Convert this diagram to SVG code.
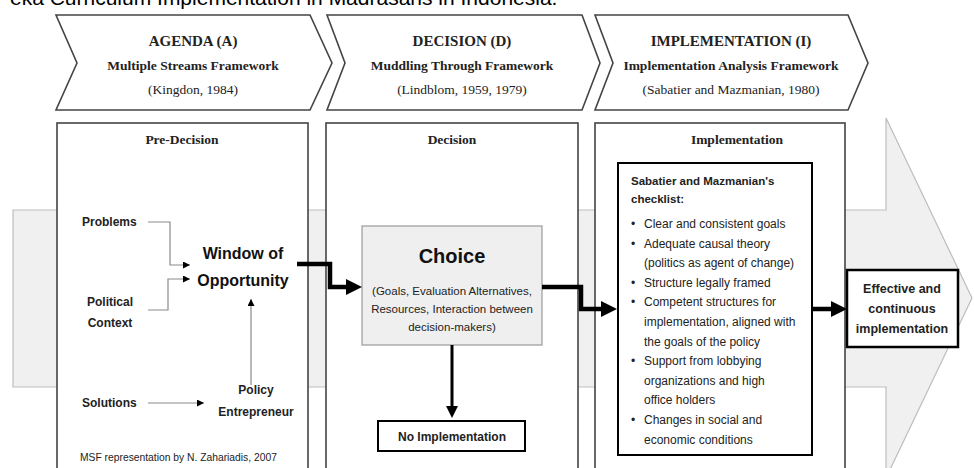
<svg xmlns="http://www.w3.org/2000/svg" width="974" height="468" viewBox="0 0 974 468">
<defs>
<style>
.serif{font-family:"Liberation Serif","Times New Roman",serif;fill:#222}
.sans{font-family:"Liberation Sans",Arial,sans-serif;fill:#222}
.b{font-weight:bold}
.mid{text-anchor:middle}
.chev{fill:#fff;stroke:#444;stroke-width:1.6}
.panel{fill:#fff;stroke:#444;stroke-width:1.6}
.thin{fill:none;stroke:#8a8a8a;stroke-width:1.2}
.thick{fill:none;stroke:#000;stroke-width:4.5}
.t11{font-size:11.5px}
.t12{font-size:12px}
</style>
<marker id="ahBig" viewBox="0 0 16 16" markerWidth="16" markerHeight="16" refX="10" refY="8" orient="auto" markerUnits="userSpaceOnUse"><path d="M0,0 L16,8 L0,16 Z" fill="#000"/></marker>
<marker id="ahMid" viewBox="0 0 12 12" markerWidth="12" markerHeight="12" refX="8" refY="6" orient="auto" markerUnits="userSpaceOnUse"><path d="M0,0 L12,6 L0,12 Z" fill="#000"/></marker>
<marker id="ahSmall" viewBox="0 0 7 7" markerWidth="7" markerHeight="7" refX="7" refY="3.5" orient="auto" markerUnits="userSpaceOnUse"><path d="M0,0 L7,3.5 L0,7 Z" fill="#000"/></marker>
</defs>
<rect width="974" height="468" fill="#fff"/>

<text class="sans" x="10" y="5" font-size="21" style="fill:#000">eka Curriculum Implementation in Madrasahs in Indonesia.</text>

<g id="big-arrow">
<path d="M13,210 L886,210 L886,118 L972,298 L886,478 L886,387 L13,387 Z" fill="#f0f0f0" stroke="#bdbdbd" stroke-width="1.2"/>
</g>

<g id="chevron-agenda">
<path class="chev" d="M56,15 L310,15 L332,63 L310,110 L56,110 L77,63 Z"/>
<text class="serif b mid" x="193" y="46" font-size="15">AGENDA (A)</text>
<text class="serif b mid" x="193" y="70" font-size="13.5">Multiple Streams Framework</text>
<text class="serif mid" x="193" y="94" font-size="13.5">(Kingdon, 1984)</text>
</g>
<g id="chevron-decision">
<path class="chev" d="M327,15 L582,15 L600,63 L582,110 L327,110 L345,63 Z"/>
<text class="serif b mid" x="462" y="46" font-size="15">DECISION (D)</text>
<text class="serif b mid" x="462" y="70" font-size="13.5">Muddling Through Framework</text>
<text class="serif mid" x="462" y="94" font-size="13.5">(Lindblom, 1959, 1979)</text>
</g>
<g id="chevron-implementation">
<path class="chev" d="M595,15 L848,15 L868,63 L848,110 L595,110 L613,63 Z"/>
<text class="serif b mid" x="731" y="46" font-size="15">IMPLEMENTATION (I)</text>
<text class="serif b mid" x="731" y="70" font-size="13.5">Implementation Analysis Framework</text>
<text class="serif mid" x="731" y="94" font-size="13.5">(Sabatier and Mazmanian, 1980)</text>
</g>

<g id="panel-predecision">
<rect class="panel" x="57" y="123" width="251" height="360"/>
<text class="serif b mid" x="182" y="144" font-size="13.5">Pre-Decision</text>
</g>
<g id="panel-decision">
<rect class="panel" x="326" y="123" width="252" height="360"/>
<text class="serif b mid" x="452" y="144" font-size="13.5">Decision</text>
</g>
<g id="panel-implementation">
<rect class="panel" x="595" y="123" width="250" height="360"/>
<text class="serif b mid" x="737" y="144" font-size="13.5">Implementation</text>
</g>

<g id="problems"><text class="sans b" x="82" y="226" font-size="12">Problems</text></g>
<g id="political-context"><text class="sans b mid" x="110" font-size="12"><tspan x="110" y="306">Political</tspan><tspan x="110" y="327">Context</tspan></text></g>
<g id="solutions"><text class="sans b" x="82" y="407" font-size="12">Solutions</text></g>
<g id="policy-entrepreneur"><text class="sans b mid" font-size="12"><tspan x="256" y="394">Policy</tspan><tspan x="256" y="416">Entrepreneur</tspan></text></g>
<g id="window-of-opportunity"><text class="sans b mid" font-size="16" style="fill:#111"><tspan x="243" y="259">Window of</tspan><tspan x="243" y="286">Opportunity</tspan></text></g>
<g id="msf-note"><text class="sans" x="80" y="461" font-size="10.3">MSF representation by N. Zahariadis, 2007</text></g>

<g id="choice">
<rect x="362" y="226" width="180" height="119" fill="#efefef" stroke="#9a9a9a" stroke-width="1.2"/>
<text class="sans b mid" x="452" y="263" font-size="20" style="fill:#111">Choice</text>
<text class="sans mid t11"><tspan x="452" y="295">(Goals, Evaluation Alternatives,</tspan><tspan x="452" y="313">Resources, Interaction between</tspan><tspan x="452" y="331">decision-makers)</tspan></text>
</g>
<g id="no-implementation">
<rect x="378" y="421" width="147" height="30" fill="#fff" stroke="#000" stroke-width="2"/>
<text class="sans b mid" x="452" y="441" font-size="12">No Implementation</text>
</g>

<g id="checklist">
<rect x="618" y="163" width="194" height="292" fill="#fff" stroke="#000" stroke-width="2"/>
<text class="sans b t11"><tspan x="631" y="185">Sabatier and Mazmanian's</tspan><tspan x="631" y="203">checklist:</tspan></text>
<text class="sans t12">
<tspan x="631" y="228">•</tspan><tspan x="644" y="228">Clear and consistent goals</tspan>
<tspan x="631" y="247.6">•</tspan><tspan x="644" y="247.6">Adequate causal theory</tspan>
<tspan x="644" y="267.2">(politics as agent of change)</tspan>
<tspan x="631" y="286.8">•</tspan><tspan x="644" y="286.8">Structure legally framed</tspan>
<tspan x="631" y="306.4">•</tspan><tspan x="644" y="306.4">Competent structures for</tspan>
<tspan x="644" y="326">implementation, aligned with</tspan>
<tspan x="644" y="345.6">the goals of the policy</tspan>
<tspan x="631" y="365.2">•</tspan><tspan x="644" y="365.2">Support from lobbying</tspan>
<tspan x="644" y="384.8">organizations and high</tspan>
<tspan x="644" y="404.4">office holders</tspan>
<tspan x="631" y="424">•</tspan><tspan x="644" y="424">Changes in social and</tspan>
<tspan x="644" y="443.6">economic conditions</tspan>
</text>
</g>

<g id="effective">
<rect x="847" y="270" width="111" height="77" fill="#fff" stroke="#000" stroke-width="2.5"/>
<text class="sans b mid" font-size="12.5"><tspan x="902" y="293">Effective and</tspan><tspan x="902" y="313">continuous</tspan><tspan x="902" y="333">implementation</tspan></text>
</g>

<g id="connectors">
<path class="thin" d="M148,222 H170 V265 H190" marker-end="url(#ahSmall)"/>
<path class="thin" d="M148,310 H168 V279 H190" marker-end="url(#ahSmall)"/>
<path class="thin" d="M148,403 H204" marker-end="url(#ahSmall)"/>
<path class="thin" d="M251,385 V299" marker-end="url(#ahSmall)"/>
<path class="thick" d="M297,264 H330 V287 H356" marker-end="url(#ahBig)"/>
<path class="thick" d="M542,287 H581 V309 H611" marker-end="url(#ahBig)"/>
<path class="thick" d="M812,309 H841" marker-end="url(#ahBig)"/>
<path fill="none" stroke="#000" stroke-width="3" d="M452,345 V414" marker-end="url(#ahMid)"/>
</g>
</svg>
